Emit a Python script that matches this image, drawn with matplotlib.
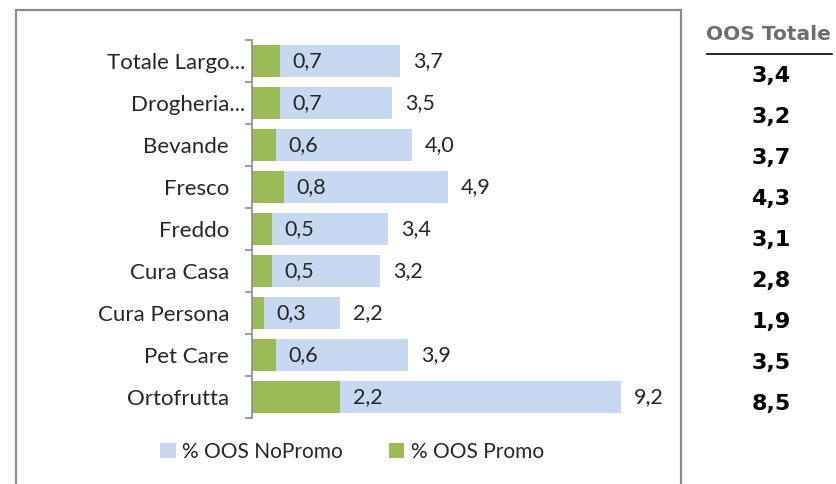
import matplotlib.pyplot as plt
import matplotlib.patches as patches
from matplotlib.transforms import ScaledTranslation
import numpy as np

categorie = ["Totale Largo...", "Drogheria...", "Bevande", "Fresco", "Freddo",
             "Cura Casa", "Cura Persona", "Pet Care", "Ortofrutta"]
no_promo = [3.7, 3.5, 4.0, 4.9, 3.4, 3.2, 2.2, 3.9, 9.2]
promo = [0.7, 0.7, 0.6, 0.8, 0.5, 0.5, 0.3, 0.6, 2.2]
oos_totale = ["3,4", "3,2", "3,7", "4,3", "3,1", "2,8", "1,9", "3,5", "8,5"]

blu = "#c6d9f1"
verde = "#9bbb59"
testo = "#262626"

def fmt(v):
    return ("%.1f" % v).replace(".", ",")

fig = plt.figure(figsize=(8.37, 4.84), dpi=100)
W, H = 837, 484

# cornice del grafico (il bordo inferiore resta fuori dall'immagine)
fig.patches.append(patches.Rectangle((16 / W, -0.05), (681 - 16) / W, (484 - 10) / H + 0.05,
                                     transform=fig.transFigure, fill=False,
                                     edgecolor="#8c8c8c", linewidth=1.6))

ax = fig.add_axes([252 / W, 1 - 418 / H, 10.7 * 40.1 / W, 378 / H])
y = np.arange(len(categorie))
ax.barh(y, no_promo, height=0.74, color=blu, label="% OOS NoPromo")
ax.barh(y, promo, height=0.74, color=verde, label="% OOS Promo")

for i in range(len(categorie)):
    ax.annotate(fmt(promo[i]), (promo[i], y[i]), xytext=(9, 0), textcoords="offset points",
                va="center", ha="left", fontsize=15.5, color=testo, family="Lato")
    ax.annotate(fmt(no_promo[i]), (no_promo[i], y[i]), xytext=(9, 0), textcoords="offset points",
                va="center", ha="left", fontsize=15.5, color=testo, family="Lato")

ax.set_xlim(0, 10.7)
ax.set_ylim(len(categorie) - 0.5, -0.5)
ax.set_yticks(y)
ax.set_yticklabels(categorie, fontsize=16, color=testo, family="Lato")
ax.set_yticks(np.arange(-0.5, len(categorie)), minor=True)
ax.tick_params(axis="y", which="major", length=0, pad=5)
ax.tick_params(axis="y", which="minor", length=5, color="#8c8c8c", width=1.2)
ax.set_xticks([])
for s in ["top", "right", "bottom"]:
    ax.spines[s].set_visible(False)
ax.spines["left"].set_color("#8c8c8c")
ax.spines["left"].set_linewidth(1.2)

# le etichette non troncate stanno piu' a sinistra (come in Excel)
for lab in ax.get_yticklabels():
    if not lab.get_text().endswith("..."):
        lab.set_transform(lab.get_transform() + ScaledTranslation(-0.16, 0, fig.dpi_scale_trans))

h, l = ax.get_legend_handles_labels()
fig.legend(h, l, loc="center", bbox_to_anchor=(352 / W, 1 - 452 / H), ncol=2, frameon=False,
           prop={"family": "Lato", "size": 15}, handlelength=0.75, handleheight=0.75,
           columnspacing=2.2, handletextpad=0.3, labelcolor=testo)

# tabella OOS Totale
fig.text(768 / W, 1 - 34 / H, "OOS Totale", ha="center", va="center", fontsize=14.5,
         fontweight="bold", color="#6d6d6d", family="DejaVu Sans")
fig.add_artist(plt.Line2D([707 / W, 832 / W], [1 - 54 / H, 1 - 54 / H], color="black", linewidth=1.2))
for i, v in enumerate(oos_totale):
    fig.text(771 / W, 1 - (76 + 41 * i) / H, v, ha="center", va="center", fontsize=16,
             fontweight="bold", color="black", family="DejaVu Sans")

fig.savefig("out.png", dpi=100)
